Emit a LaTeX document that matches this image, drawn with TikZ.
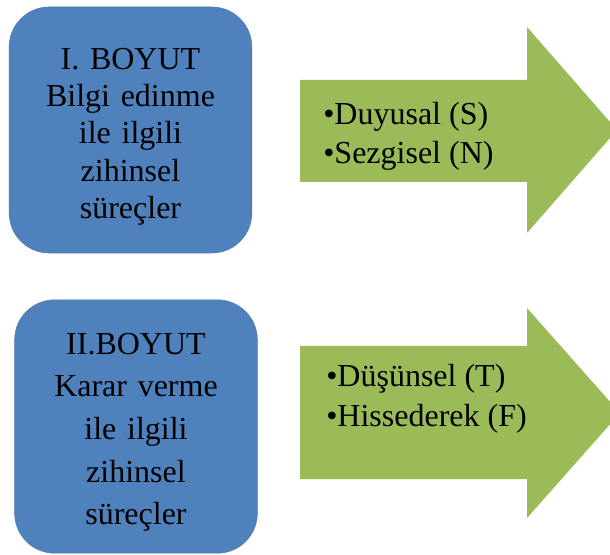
\documentclass[tikz,border=0pt]{standalone}
\usepackage{fontspec}
\setmainfont{Liberation Serif}
\usetikzlibrary{positioning}
\definecolor{boxblue}{HTML}{4F81BD}
\definecolor{boxedge}{HTML}{4A7AB4}
\definecolor{arrowgreen}{HTML}{9BBB59}

\begin{document}
\begin{tikzpicture}[x=0.75pt,y=-0.75pt]
    \tikzset{
      dimbox/.style={rectangle,rounded corners=30pt,fill=boxblue,draw=boxedge,thin,minimum width=182pt,text width=170pt,align=center},
      arrowshape/.style={fill=arrowgreen},
      listtext/.style={anchor=west,align=left,inner sep=0pt}
    }
    \useasboundingbox (0,0) rectangle (610,555);

    \node[dimbox,minimum height=184.5pt,font=\fontsize{24}{28}\selectfont](dim1) at (130.5,130){\rule{0pt}{26pt}I. BOYUT\\Bilgi edinme\\ile ilgili\\zihinsel\\süreçler};
    \node[dimbox,minimum height=190pt,font=\fontsize{24}{32}\selectfont](dim2) at (136,426.5){\rule{0pt}{24.5pt}II.BOYUT\\Karar verme\\ile ilgili\\zihinsel\\süreçler};

    % first arrow
    \fill[arrowshape] (300,80) -- (527,80) -- (527,27) -- (617,130) -- (527,233) -- (527,182) -- (300,182) -- cycle;
    \node[listtext,font=\fontsize{24}{29}\selectfont](list1) at (323,136.5){•Duyusal (S)\\•Sezgisel (N)};

    % second arrow
    \fill[arrowshape] (300,346) -- (527,346) -- (527,308) -- (620,413) -- (527,518) -- (527,479) -- (300,479) -- cycle;
    \node[listtext,font=\fontsize{24}{30}\selectfont](list2) at (326,398.5){•Düşünsel (T)\\•Hissederek (F)};

\end{tikzpicture}
\end{document}
